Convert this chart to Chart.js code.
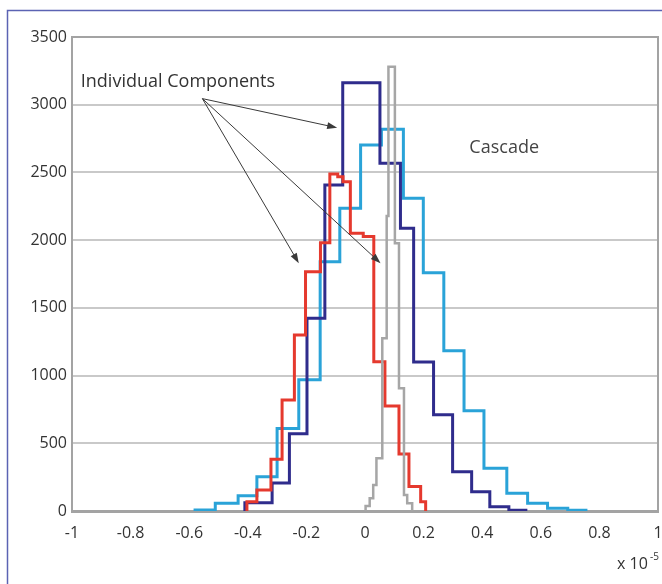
<!DOCTYPE html>
<html>
<head>
<meta charset="utf-8">
<script src="https://cdn.jsdelivr.net/npm/chart.js@4.4.0/dist/chart.umd.min.js"></script>
<style>
  html, body { margin: 0; padding: 0; background: #fff; }
  #wrap { position: relative; width: 662px; height: 584px; }
</style>
</head>
<body>
<div id="wrap"><canvas id="histChart" width="662" height="584"></canvas></div>
<script>
// bin edges in units of 1e-5, one count per bin
const cascadeEdges = [-0.58, -0.511, -0.433, -0.369, -0.300, -0.226, -0.153, -0.086, -0.015, 0.056,
                      0.131, 0.199, 0.269, 0.338, 0.406, 0.484, 0.555, 0.623, 0.692, 0.754];
const cascadeCounts = [7, 57, 113, 253, 610, 970, 1841, 2235, 2702, 2818,
                       2309, 1760, 1184, 741, 315, 131, 57, 20, 5];

const navyEdges = [-0.41, -0.317, -0.258, -0.198, -0.137, -0.076, 0.051, 0.121, 0.166,
                   0.234, 0.299, 0.364, 0.426, 0.491, 0.549];
const navyCounts = [61, 207, 570, 1423, 2407, 3163, 2567, 2087, 1100, 710, 290, 142, 32, 5];

const redEdges = [-0.403, -0.369, -0.321, -0.283, -0.241, -0.203, -0.152, -0.120, -0.093, -0.075,
                  -0.050, -0.006, 0.030, 0.068, 0.116, 0.150, 0.190, 0.207];
const redCounts = [69, 155, 382, 820, 1300, 1767, 1981, 2488, 2468, 2431, 2050, 2026, 1102, 775, 421, 180, 69];

const grayEdges = [0.002, 0.016, 0.028, 0.039, 0.059, 0.074, 0.080, 0.102, 0.116, 0.133, 0.144, 0.161];
const grayCounts = [37, 94, 192, 390, 1275, 2178, 3281, 1977, 906, 118, 57];

const xTickLabels = ['-1', '-0.8', '-0.6', '-0.4', '-0.2', '0', '0.2', '0.4', '0.6', '0.8', '1'];
const yTickLabels = ['0', '500', '1000', '1500', '2000', '2500', '3000', '3500'];

const FONT = "'Open Sans', 'DejaVu Sans', sans-serif";

// annotation positions in data units
const notes = {
    label: { text: 'Individual Components', x: -0.97, y: 3165 },
    from: { x: -0.555, y: 3045 },
    targets: [{ x: -0.095, y: 2830 }, { x: -0.226, y: 1830 }, { x: 0.053, y: 1830 }],
    cascade: { text: 'Cascade', x: 0.475, y: 2680 }
};

// turn bin edges + counts into an outline for a stepped line
function outline(edges, counts) {
    const pts = [{ x: edges[0], y: 0 }];
    for (let i = 0; i < counts.length; i++) {
        pts.push({ x: edges[i], y: counts[i] });
    }
    pts.push({ x: edges[edges.length - 1], y: 0 });
    return pts;
}

function series(label, edges, counts, color, width, order) {
    return {
        label: label,
        data: outline(edges, counts),
        borderColor: color,
        borderWidth: width,
        stepped: true,
        pointRadius: 0,
        fill: false,
        order: order
    };
}

const framePlugin = {
    id: 'frame',
    beforeDraw(chart) {
        const ctx = chart.ctx;
        ctx.save();
        ctx.fillStyle = '#fff';
        ctx.fillRect(0, 0, chart.width, chart.height);
        ctx.strokeStyle = '#5b63b3';
        ctx.lineWidth = 1.5;
        ctx.beginPath();
        ctx.moveTo(7.5, chart.height);
        ctx.lineTo(7.5, 10.5);
        ctx.lineTo(chart.width, 10.5);
        ctx.stroke();
        ctx.restore();
    },
    beforeDatasetsDraw(chart) {
        const a = chart.chartArea;
        const ctx = chart.ctx;
        ctx.save();
        ctx.strokeStyle = '#a3a3a3';
        ctx.lineWidth = 2;
        ctx.beginPath();
        ctx.moveTo(a.left, a.top);
        ctx.lineTo(a.right, a.top);
        ctx.lineTo(a.right, a.bottom);
        ctx.stroke();
        ctx.restore();
    }
};

function arrow(ctx, x1, y1, x2, y2) {
    const ang = Math.atan2(y2 - y1, x2 - x1);
    const len = 10, half = 3.5;
    ctx.beginPath();
    ctx.moveTo(x1, y1);
    ctx.lineTo(x2 - Math.cos(ang) * len * 0.8, y2 - Math.sin(ang) * len * 0.8);
    ctx.stroke();
    ctx.beginPath();
    ctx.moveTo(x2, y2);
    ctx.lineTo(x2 - Math.cos(ang) * len - Math.sin(ang) * half, y2 - Math.sin(ang) * len + Math.cos(ang) * half);
    ctx.lineTo(x2 - Math.cos(ang) * len + Math.sin(ang) * half, y2 - Math.sin(ang) * len - Math.cos(ang) * half);
    ctx.closePath();
    ctx.fill();
}

const notesPlugin = {
    id: 'notes',
    afterDatasetsDraw(chart) {
        const ctx = chart.ctx;
        const xs = chart.scales.x, ys = chart.scales.y;
        ctx.save();
        ctx.fillStyle = '#333';
        ctx.font = '18px ' + FONT;
        ctx.textBaseline = 'middle';
        ctx.textAlign = 'left';
        ctx.fillText(notes.label.text, xs.getPixelForValue(notes.label.x), ys.getPixelForValue(notes.label.y));
        ctx.textAlign = 'center';
        ctx.fillStyle = '#444';
        ctx.fillText(notes.cascade.text, xs.getPixelForValue(notes.cascade.x), ys.getPixelForValue(notes.cascade.y));

        ctx.strokeStyle = '#3a3a3a';
        ctx.fillStyle = '#3a3a3a';
        ctx.lineWidth = 1;
        const fx = xs.getPixelForValue(notes.from.x), fy = ys.getPixelForValue(notes.from.y);
        notes.targets.forEach(t => {
            arrow(ctx, fx, fy, xs.getPixelForValue(t.x), ys.getPixelForValue(t.y));
        });

        // exponent label under the x axis
        ctx.fillStyle = '#333';
        ctx.textAlign = 'left';
        ctx.font = '16px ' + FONT;
        ctx.fillText('x 10', 617, 564);
        ctx.font = '10px ' + FONT;
        ctx.fillText('-5', 650, 557);
        ctx.restore();
    }
};

const ctx = document.getElementById('histChart').getContext('2d');
const chart = new Chart(ctx, {
    type: 'line',
    data: {
        datasets: [
            series('Cascade', cascadeEdges, cascadeCounts, '#2aa3d8', 3, 4),
            series('Component 1', navyEdges, navyCounts, '#2f2c8c', 3, 3),
            series('Component 2', redEdges, redCounts, '#e5392e', 3, 2),
            series('Component 3', grayEdges, grayCounts, '#a6a6a6', 2.5, 1)
        ]
    },
    options: {
        responsive: false,
        animation: false,
        layout: {
            padding: { top: 37, right: 4, left: 0, bottom: 0 }
        },
        plugins: {
            legend: { display: false },
            tooltip: { enabled: false }
        },
        scales: {
            x: {
                type: 'linear',
                min: -1,
                max: 1,
                afterFit: s => {
                    s.height = 73;
                    s.paddingLeft = 0;
                    s.paddingRight = 0;
                },
                ticks: {
                    stepSize: 0.2,
                    color: '#333',
                    padding: 13,
                    maxRotation: 0,
                    font: { family: FONT, size: 16 },
                    callback: (v, i) => xTickLabels[i]
                },
                grid: { display: false, drawTicks: false },
                border: { color: '#a3a3a3', width: 3 }
            },
            y: {
                min: 0,
                max: 3500,
                afterFit: s => { s.width = 72; },
                ticks: {
                    stepSize: 500,
                    color: '#333',
                    padding: 5,
                    font: { family: FONT, size: 16 },
                    callback: (v, i) => yTickLabels[i]
                },
                grid: { color: '#c9c9c9', lineWidth: 2, drawTicks: false },
                border: { color: '#a3a3a3', width: 2 }
            }
        }
    },
    plugins: [framePlugin, notesPlugin]
});
</script>
</body>
</html>
